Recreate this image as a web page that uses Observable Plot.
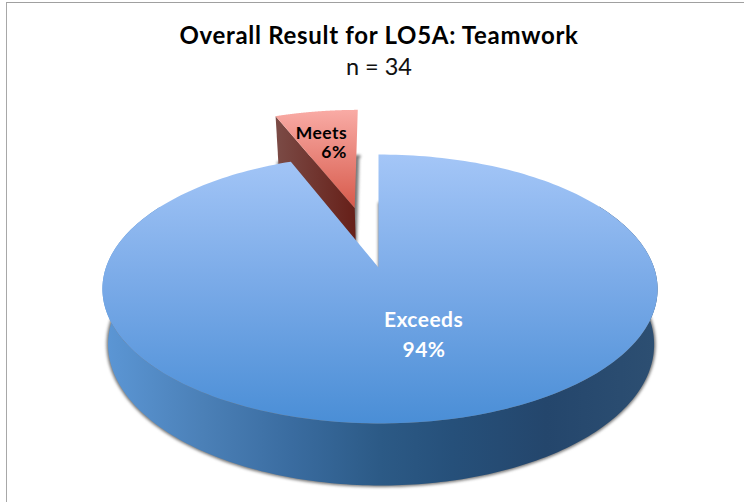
<!DOCTYPE html>
<html>
<head>
<meta charset="utf-8">
<script src="https://cdn.jsdelivr.net/npm/d3@7"></script>
<script src="https://cdn.jsdelivr.net/npm/@observablehq/plot@0.6"></script>
<style>
  html, body { margin: 0; padding: 0; background: #fff; }
  body { width: 744px; height: 502px; overflow: hidden; position: relative; }
  body::before { content: ""; position: absolute; left: 6px; top: 2px; right: 0; bottom: 0;
                 border-top: 1.5px solid #a0a0a0; border-left: 1.5px solid #a8a8a8; }
  figure { margin: 0; position: relative; font-family: Lato, sans-serif; }
  h2, h3 { margin: 0; text-align: center; width: 758px; color: #000; position: absolute; left: 0; }
  h2 { top: 20px; font: 700 24px/30px Lato, sans-serif; letter-spacing: 0.7px; }
  h3 { top: 51px; font: 400 23.5px/30px Lato, sans-serif; color: #111; }
  svg { display: block; position: absolute; left: 0; top: 90px; background: transparent !important; }
  svg text { letter-spacing: 0.45px; }
</style>
</head>
<body>
<script>
// ---- data
const categories = ["Exceeds", "Meets"];
const percents = [94, 6];
const explode = [0, 0.5];           // Meets is pulled out by half a radius
const chartTitle = "Overall Result for LO5A: Teamwork";
const chartSubtitle = "n = 34";

// ---- perspective of the 3-D pie, calibrated on the reference
const PERSP = 0.16, SKEW = -0.0054;
const LOWER = { sx: 0.9836, sy: 1.0489, dx: 0.004, dy: -0.4153 };
const TOP = { sx: 1, sy: 1, dx: 0, dy: 0 };
const rad = d => d * Math.PI / 180;

// start/end angles clockwise from twelve o'clock, from the values
const total = d3.sum(percents);
let acc = 0;
const slices = categories.map((name, i) => {
  const a0 = acc / total * 360;
  acc += percents[i];
  const a1 = acc / total * 360;
  const mid = rad((a0 + a1) / 2);
  return { name, value: percents[i], a0, a1,
           ox: explode[i] * Math.sin(mid), oy: explode[i] * Math.cos(mid) };
});

function proj(plane, X, Y) {
  const w = 1 + PERSP * Y + SKEW * X;
  return { x: plane.sx * X / w + plane.dx, y: plane.sy * Y / w + plane.dy };
}
const rim = (s, plane, a) => proj(plane, s.ox + Math.sin(rad(a)), s.oy + Math.cos(rad(a)));
const apex = (s, plane) => proj(plane, s.ox, s.oy);
const arc = (s, plane, a0, a1) => d3.range(0, 1.0001, 1 / 240).map(t => rim(s, plane, a0 + (a1 - a0) * t));
const sector = (s, plane) => [apex(s, plane), ...arc(s, plane, s.a0, s.a1)];

const [exceeds, meets] = slices;

const gradients = () => {
  const defs = document.createElementNS("http://www.w3.org/2000/svg", "defs");
  const g = (id, vertical, stops) =>
    `<linearGradient id="${id}" x1="0" y1="0" x2="${vertical ? 0 : 1}" y2="${vertical ? 1 : 0}">` +
    stops.map(([o, c]) => `<stop offset="${o}" stop-color="${c}"/>`).join("") + `</linearGradient>`;
  defs.innerHTML =
    g("blueTop", true, [[0, "#a4c6f7"], [0.5, "#78a9e7"], [1, "#4a8ed6"]]) +
    g("blueWall", false, [[0, "#5c97d6"], [0.18, "#4b80b7"], [0.34, "#3a6ca0"], [0.5, "#2c5a86"], [0.63, "#26507a"], [0.8, "#24466c"], [1, "#2d4f72"]]) +
    g("redTop", true, [[0, "#f9aba5"], [1, "#d75a4b"]]) +
    g("redWall", false, [[0, "#7b4b46"], [1, "#661f18"]]);
  return defs;
};

const blur = r => (i, sc, v, d, c, next) => {
  const el = next(i, sc, v, d, c);
  el.style.filter = `blur(${r}px)`;
  return el;
};
const shape = (pts, fill, extra = {}) =>
  Plot.line(pts, { x: "x", y: "y", fill, stroke: "none", ...extra });

// wall seen from the front: top rim forward, lower rim back
const frontWall = [...arc(exceeds, TOP, 60, 300), ...arc(exceeds, LOWER, 300, 60)];
const meetsWall = [rim(meets, TOP, meets.a0), apex(meets, TOP), apex(meets, LOWER), rim(meets, LOWER, meets.a0)];

const shadowStyle = { stroke: "#777", strokeWidth: 3, render: blur(1.6) };

const labels = [
  { name: exceeds.name, pct: exceeds.value + "%", px: 423, py: 320, fill: "#fff", size: 21, pctPx: 423.5, pctPy: 350 },
  { name: meets.name, pct: meets.value + "%", px: 321, py: 133, fill: "#000", size: 17.5, pctPx: 333.5, pctPy: 152 }
];
const X0 = 378, RX = 274, Y0 = 267, RY = 131, TOPH = 90;

const chart = Plot.plot({
  title: chartTitle,
  subtitle: chartSubtitle,
  width: 744,
  height: 412,
  margin: 0,
  style: { background: "transparent", overflow: "visible" },
  x: { domain: [-1, 1], range: [X0 - RX, X0 + RX], axis: null },
  y: { domain: [-1, 1], range: [Y0 + RY - TOPH, Y0 - RY - TOPH], axis: null },
  marks: [
    gradients,
    shape(sector(meets, LOWER), "#777", shadowStyle),
    shape(sector(exceeds, LOWER), "#777", shadowStyle),
    shape(meetsWall, "url(#redWall)"),
    shape(sector(meets, TOP), "url(#redTop)"),
    shape(frontWall, "url(#blueWall)"),
    shape(sector(exceeds, TOP), "url(#blueTop)"),
    ...labels.flatMap(l => [
      Plot.text([l], { x: d => (d.px - X0) / RX, y: d => (Y0 - d.py) / RY, text: "name", fill: l.fill, fontSize: l.size, fontWeight: 700, fontFamily: "Lato, sans-serif", textAnchor: "middle" }),
      Plot.text([l], { x: d => (d.pctPx - X0) / RX, y: d => (Y0 - d.pctPy) / RY, text: "pct", fill: l.fill, fontSize: l.size, fontWeight: 700, fontFamily: "Lato, sans-serif", textAnchor: "middle" })
    ])
  ]
});
document.body.appendChild(chart);
</script>
</body>
</html>
